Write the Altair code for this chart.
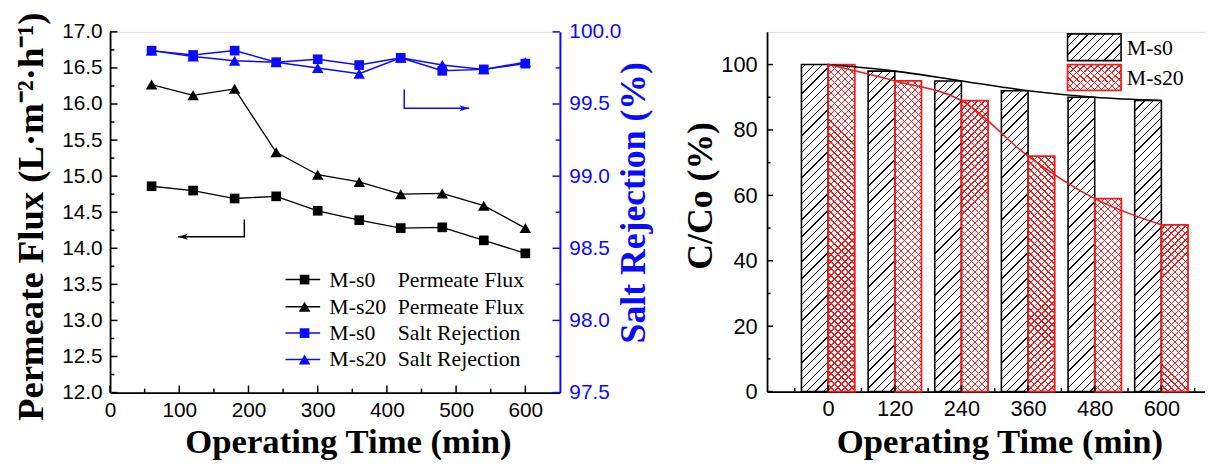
import math
import altair as alt
import pandas as pd

# ---------------- data ----------------
series_names = ["M-s0", "M-s20"]

flux_time = [60, 120, 180, 240, 300, 360, 420, 480, 540, 600]
flux_s0 = [14.86, 14.80, 14.69, 14.72, 14.52, 14.39, 14.28, 14.29, 14.11, 13.93]
flux_s20 = [16.27, 16.12, 16.21, 15.33, 15.02, 14.92, 14.75, 14.76, 14.59, 14.28]
rej_s0 = [99.87, 99.84, 99.87, 99.79, 99.81, 99.77, 99.82, 99.73, 99.74, 99.78]
rej_s20 = [99.87, 99.83, 99.80, 99.79, 99.75, 99.71, 99.82, 99.77, 99.74, 99.79]

arrow_flux_x = [194, 194, 98]
arrow_flux_y = [14.40, 14.16, 14.16]
arrow_rej_x = [425, 425, 519]
arrow_rej_y = [99.60, 99.47, 99.47]

cc_time = [0, 120, 240, 360, 480, 600]
cc_s0 = [100, 98, 95, 92, 90, 89]
cc_s20 = [100, 95, 89, 72, 59, 51]

flux_x_ticks = [0, 100, 200, 300, 400, 500, 600]
flux_x_minor = [50, 150, 250, 350, 450, 550]
flux_y_ticks = [12.0, 12.5, 13.0, 13.5, 14.0, 14.5, 15.0, 15.5, 16.0, 16.5, 17.0]
flux_y_minor = [12.25, 12.75, 13.25, 13.75, 14.25, 14.75, 15.25, 15.75, 16.25, 16.75]
rej_y_ticks = [97.5, 98.0, 98.5, 99.0, 99.5, 100.0]
rej_y_minor = [97.75, 98.25, 98.75, 99.25, 99.75]
cc_x_ticks = [0, 120, 240, 360, 480, 600]
cc_x_minor = [-60, 60, 180, 300, 420, 540, 660]
cc_y_ticks = [0, 20, 40, 60, 80, 100]
cc_y_minor = [10, 30, 50, 70, 90]

legend_left_ids = ["M-s0", "M-s20", "M-s0", "M-s20"]
legend_left_kind = ["Permeate Flux", "Permeate Flux", "Salt Rejection", "Salt Rejection"]

# ---------------- style ----------------
BLUE = "#0a0aff"
RED = "#ee1c1c"
SERIF = "Liberation Serif"
SANS = "Liberation Sans"
W1, H1 = 454, 364
W2, H2 = 454, 363
X2_DOMAIN = [-110, 700]
Y2_DOMAIN = [0, 110]
BAR_W = 48
SQ, TRI = 95, 135

one = pd.DataFrame({"k": [0]})


def hatch(w, h, spacing, lw, color, bg, direction):
    L = w + h
    k = L / (w * w + h * h)
    if direction == "/":
        x1, y1, x2, y2 = 0, 0, k * w, k * h
    else:
        x1, y1, x2, y2 = 1, 0, 1 - k * w, k * h
    period = spacing * math.sqrt(2) / L
    half = lw * math.sqrt(2) / (2 * L)
    stops = [{"offset": 0, "color": bg}]
    c = period / 2
    while c - half < 1:
        a = round(max(c - half, 0), 5)
        b = round(min(c + half, 1), 5)
        stops += [{"offset": a, "color": bg}, {"offset": a, "color": color},
                  {"offset": b, "color": color}, {"offset": b, "color": bg}]
        c += period
    stops.append({"offset": 1, "color": bg})
    return {"gradient": "linear", "x1": round(x1, 5), "y1": y1, "x2": round(x2, 5),
            "y2": round(y2, 5), "stops": stops}


def text_layer(s, x, y, size, color="black", align="left", font=SERIF):
    return alt.Chart(one).mark_text(text=s, align=align, baseline="middle", font=font,
                                    fontSize=size, color=color).encode(x=alt.value(x), y=alt.value(y))


# ================= LEFT PANEL =================
xs1 = alt.Scale(domain=[0, 650], nice=False, zero=False)
ys_flux = alt.Scale(domain=[12, 17], nice=False, zero=False)
ys_rej = alt.Scale(domain=[97.5, 100], nice=False, zero=False)

x_axis1 = alt.Axis(values=flux_x_ticks, format="d", ticks=False, tickSize=0, grid=False,
                   domainColor="black", domainWidth=1.8, labelFont=SANS, labelFontSize=21,
                   labelColor="black", labelPadding=7, labelFlush=False, labelOverlap=False,
                   title="Operating Time (min)", titleFont=SERIF, titleFontSize=35,
                   titleFontWeight="bold", titleColor="black", titleBaseline="alphabetic",
                   titleAlign="center", titleX=240, titleY=60.5)
flux_axis = alt.Axis(values=flux_y_ticks, format=".1f", ticks=False, tickSize=0, grid=False,
                     domainColor="black", domainWidth=1.8, labelFont=SANS, labelFontSize=21,
                     labelColor="black", labelPadding=8, labelFlush=False, labelOverlap=False,
                     title="Permeate Flux (L·m⁻²·h⁻¹)", titleFont=SERIF, titleFontSize=37,
                     titleFontWeight="bold", titleColor="black", titleAngle=270,
                     titleBaseline="alphabetic", titleAlign="center", titleX=-68, titleY=186)
rej_axis = alt.Axis(orient="right", values=rej_y_ticks, format=".1f", ticks=False, tickSize=0,
                    grid=False, domainColor=BLUE, domainWidth=2, labelFont=SANS, labelFontSize=21,
                    labelColor=BLUE, labelPadding=9, labelFlush=False, labelOverlap=False,
                    title="Salt Rejection (%)", titleFont=SERIF, titleFontSize=36,
                    titleFontWeight="bold", titleColor=BLUE, titleAngle=270,
                    titleBaseline="alphabetic", titleAlign="center", titleX=85, titleY=172)

X1 = alt.X("time:Q", scale=xs1, axis=x_axis1)
Yf = alt.Y("flux:Q", scale=ys_flux, axis=flux_axis)
Yr = alt.Y("rej:Q", scale=ys_rej, axis=rej_axis)

shape_scale = alt.Scale(domain=series_names, range=["square", "triangle-up"])
size_scale = alt.Scale(domain=series_names, range=[SQ, TRI])

flux_df = pd.DataFrame({"time": flux_time * 2, "flux": flux_s0 + flux_s20,
                        "series": [series_names[0]] * len(flux_time) + [series_names[1]] * len(flux_time)})
rej_df = pd.DataFrame({"time": flux_time * 2, "rej": rej_s0 + rej_s20,
                       "series": [series_names[0]] * len(flux_time) + [series_names[1]] * len(flux_time)})

flux_line = alt.Chart(flux_df).mark_line(color="black", strokeWidth=1.3).encode(
    x=X1, y=Yf, detail="series:N")
flux_pts = alt.Chart(flux_df).mark_point(filled=True, color="black", opacity=1).encode(
    x=X1, y=Yf,
    shape=alt.Shape("series:N", scale=shape_scale, legend=None),
    size=alt.Size("series:N", scale=size_scale, legend=None))

xt_major = alt.Chart(pd.DataFrame({"time": flux_x_ticks})).mark_rule(color="black", strokeWidth=1.5).encode(
    x=X1, y=alt.value(H1), y2=alt.value(H1 - 7))
xt_minor = alt.Chart(pd.DataFrame({"time": flux_x_minor})).mark_rule(color="black", strokeWidth=1.5).encode(
    x=X1, y=alt.value(H1), y2=alt.value(H1 - 4))
yf_major = alt.Chart(pd.DataFrame({"flux": flux_y_ticks})).mark_rule(color="black", strokeWidth=1.5).encode(
    y=Yf, x=alt.value(0), x2=alt.value(7.5))
yf_minor = alt.Chart(pd.DataFrame({"flux": flux_y_minor})).mark_rule(color="black", strokeWidth=1.5).encode(
    y=Yf, x=alt.value(0), x2=alt.value(4.3))

arrow_f = alt.Chart(pd.DataFrame({"time": arrow_flux_x, "flux": arrow_flux_y, "o": [0, 1, 2]})).mark_line(
    color="black", strokeWidth=1.5).encode(x=X1, y=Yf, order="o:Q")
head_f = alt.Chart(pd.DataFrame({"time": arrow_flux_x[-1:], "flux": arrow_flux_y[-1:]})).mark_point(
    shape="M0,0 L1,-0.3 L0.75,0 L1,0.3 Z", filled=True, color="black", opacity=1, size=400).encode(x=X1, y=Yf)

flux_group = alt.layer(flux_line, flux_pts, xt_major, xt_minor, yf_major, yf_minor, arrow_f, head_f)

rej_line = alt.Chart(rej_df).mark_line(color=BLUE, strokeWidth=1.5).encode(
    x=X1, y=Yr, detail="series:N")
rej_pts = alt.Chart(rej_df).mark_point(filled=True, color=BLUE, opacity=1).encode(
    x=X1, y=Yr,
    shape=alt.Shape("series:N", scale=shape_scale, legend=None),
    size=alt.Size("series:N", scale=size_scale, legend=None))
yr_major = alt.Chart(pd.DataFrame({"rej": rej_y_ticks})).mark_rule(color=BLUE, strokeWidth=1.5).encode(
    y=Yr, x=alt.value(W1), x2=alt.value(W1 - 7.5))
yr_minor = alt.Chart(pd.DataFrame({"rej": rej_y_minor})).mark_rule(color=BLUE, strokeWidth=1.5).encode(
    y=Yr, x=alt.value(W1), x2=alt.value(W1 - 4.3))
arrow_r = alt.Chart(pd.DataFrame({"time": arrow_rej_x, "rej": arrow_rej_y, "o": [0, 1, 2]})).mark_line(
    color=BLUE, strokeWidth=1.5).encode(x=X1, y=Yr, order="o:Q")
head_r = alt.Chart(pd.DataFrame({"time": arrow_rej_x[-1:], "rej": arrow_rej_y[-1:]})).mark_point(
    shape="M0,0 L-1,-0.3 L-0.75,0 L-1,0.3 Z", filled=True, color=BLUE, opacity=1, size=400).encode(x=X1, y=Yr)

rej_group = alt.layer(rej_line, rej_pts, yr_major, yr_minor, arrow_r, head_r)

# left legend (custom)
leg_layers = []
row_y = [250, 277.3, 304, 330.7]
shapes = {"M-s0": ("square", SQ), "M-s20": ("triangle-up", TRI)}
for i, (sid, kind) in enumerate(zip(legend_left_ids, legend_left_kind)):
    col = "black" if kind == "Permeate Flux" else BLUE
    y = row_y[i]
    leg_layers.append(alt.Chart(one).mark_rule(color=col, strokeWidth=1.5).encode(
        x=alt.value(177), x2=alt.value(212), y=alt.value(y)))
    shp, sz = shapes[sid]
    leg_layers.append(alt.Chart(one).mark_point(shape=shp, size=sz, filled=True, color=col, opacity=1).encode(
        x=alt.value(196.3), y=alt.value(y)))
    leg_layers.append(text_layer(sid, 221.3, y, 22))
    leg_layers.append(text_layer(kind, 290.3, y, 22))

left = alt.layer(flux_group, rej_group, *leg_layers).resolve_scale(y="independent").properties(
    width=W1, height=H1)

# ================= RIGHT PANEL =================
xs2 = alt.Scale(domain=X2_DOMAIN, nice=False, zero=False)
ys2 = alt.Scale(domain=Y2_DOMAIN, nice=False, zero=False)
x_axis2 = alt.Axis(values=cc_x_ticks, format="d", ticks=False, tickSize=0, grid=False,
                   domainColor="black", domainWidth=1.8, labelFont=SANS, labelFontSize=22,
                   labelColor="black", labelPadding=7, labelFlush=False, labelOverlap=False,
                   title="Operating Time (min)", titleFont=SERIF, titleFontSize=35,
                   titleFontWeight="bold", titleColor="black", titleBaseline="alphabetic",
                   titleAlign="center", titleX=234.5, titleY=61.5)
y_axis2 = alt.Axis(values=cc_y_ticks, format="d", ticks=False, tickSize=0, grid=False,
                   domainColor="black", domainWidth=1.8, labelFont=SANS, labelFontSize=22,
                   labelColor="black", labelPadding=10, labelFlush=False, labelOverlap=False,
                   title="C/Co (%)", titleFont=SERIF, titleFontSize=36,
                   titleFontWeight="bold", titleColor="black", titleAngle=270,
                   titleBaseline="alphabetic", titleAlign="center", titleX=-56, titleY=165)

px_x = W2 / (X2_DOMAIN[1] - X2_DOMAIN[0])
px_y = H2 / (Y2_DOMAIN[1] - Y2_DOMAIN[0])
bw, bh = BAR_W * px_x, 100 * px_y
grad_black = hatch(bw, bh, 6.0, 0.9, "black", "white", "/")
grad_red1 = hatch(bw, bh, 5.0, 0.9, RED, "white", "/")
grad_red2 = hatch(bw, bh, 5.0, 0.9, RED, "rgba(255,255,255,0)", "\\")

cc_df = pd.DataFrame({"time": cc_time, "s0": cc_s0, "s20": cc_s20})
base2 = alt.Chart(cc_df).transform_calculate(
    lx="datum.time - %d" % BAR_W, mx="datum.time", rx="datum.time + %d" % BAR_W, full="100",
    clx="datum.time - %d" % (BAR_W + 2), cmx="datum.time + 1",
    crl="datum.time - 1", crr="datum.time + %d" % (BAR_W + 2))

X2L = alt.X("lx:Q", scale=xs2, axis=x_axis2)
X2M = alt.X("mx:Q", scale=xs2, axis=x_axis2)

hatch_b = base2.mark_bar(fill=grad_black, strokeWidth=0).encode(
    x=X2L, x2="mx:Q", y=alt.Y("full:Q", scale=ys2, axis=y_axis2), y2=alt.datum(0))
hatch_r1 = base2.mark_bar(fill=grad_red1, strokeWidth=0).encode(
    x=X2M, x2="rx:Q", y=alt.Y("full:Q", scale=ys2, axis=y_axis2), y2=alt.datum(0))
hatch_r2 = base2.mark_bar(fill=grad_red2, strokeWidth=0).encode(
    x=X2M, x2="rx:Q", y=alt.Y("full:Q", scale=ys2, axis=y_axis2), y2=alt.datum(0))
cover_b = base2.mark_bar(fill="white", strokeWidth=0).encode(
    x=alt.X("clx:Q", scale=xs2, axis=x_axis2), x2="cmx:Q",
    y=alt.Y("s0:Q", scale=ys2, axis=y_axis2), y2=alt.datum(100.8))
cover_r = base2.mark_bar(fill="white", strokeWidth=0).encode(
    x=alt.X("crl:Q", scale=xs2, axis=x_axis2), x2="crr:Q",
    y=alt.Y("s20:Q", scale=ys2, axis=y_axis2), y2=alt.datum(100.8))
out_b = base2.mark_bar(fillOpacity=0, stroke="black", strokeWidth=1.6).encode(
    x=X2L, x2="mx:Q", y=alt.Y("s0:Q", scale=ys2, axis=y_axis2), y2=alt.datum(0))
out_r = base2.mark_bar(fillOpacity=0, stroke=RED, strokeWidth=1.8).encode(
    x=X2M, x2="rx:Q", y=alt.Y("s20:Q", scale=ys2, axis=y_axis2), y2=alt.datum(0))
line_b = alt.Chart(cc_df).mark_line(color="black", strokeWidth=1.6, interpolate="monotone").encode(
    x=alt.X("time:Q", scale=xs2, axis=x_axis2), y=alt.Y("s0:Q", scale=ys2, axis=y_axis2))
line_r = alt.Chart(cc_df).mark_line(color=RED, strokeWidth=1.6, interpolate="monotone").encode(
    x=alt.X("time:Q", scale=xs2, axis=x_axis2), y=alt.Y("s20:Q", scale=ys2, axis=y_axis2))

X2T = alt.X("time:Q", scale=xs2, axis=x_axis2)
Y2T = alt.Y("v:Q", scale=ys2, axis=y_axis2)
cx_major = alt.Chart(pd.DataFrame({"time": cc_x_ticks})).mark_rule(color="black", strokeWidth=1.5).encode(
    x=X2T, y=alt.value(H2), y2=alt.value(H2 - 6))
cx_minor = alt.Chart(pd.DataFrame({"time": cc_x_minor})).mark_rule(color="black", strokeWidth=1.5).encode(
    x=X2T, y=alt.value(H2), y2=alt.value(H2 - 3.5))
cy_major = alt.Chart(pd.DataFrame({"v": cc_y_ticks})).mark_rule(color="black", strokeWidth=1.5).encode(
    y=Y2T, x=alt.value(0), x2=alt.value(6))
cy_minor = alt.Chart(pd.DataFrame({"v": cc_y_minor})).mark_rule(color="black", strokeWidth=1.5).encode(
    y=Y2T, x=alt.value(0), x2=alt.value(3.5))

# right legend (custom)
sw_w, sw_h = 54, 27
g_sw_b = hatch(sw_w, sw_h, 6.0, 0.9, "black", "white", "/")
g_sw_r1 = hatch(sw_w, sw_h, 5.0, 0.9, RED, "white", "/")
g_sw_r2 = hatch(sw_w, sw_h, 5.0, 0.9, RED, "rgba(255,255,255,0)", "\\")
sx1, sx2 = 303.3, 357.3
sw_b = alt.Chart(one).mark_rect(fill=g_sw_b, stroke="black", strokeWidth=1.6).encode(
    x=alt.value(sx1), x2=alt.value(sx2), y=alt.value(2), y2=alt.value(29))
sw_r1 = alt.Chart(one).mark_rect(fill=g_sw_r1, strokeWidth=0).encode(
    x=alt.value(sx1), x2=alt.value(sx2), y=alt.value(33), y2=alt.value(59))
sw_r2 = alt.Chart(one).mark_rect(fill=g_sw_r2, stroke=RED, strokeWidth=1.8).encode(
    x=alt.value(sx1), x2=alt.value(sx2), y=alt.value(33), y2=alt.value(59))
lt_b = text_layer(series_names[0], 363.1, 16.7, 22)
lt_r = text_layer(series_names[1], 363.1, 46.7, 22)

right = alt.layer(hatch_b, hatch_r1, hatch_r2, cover_b, cover_r, out_b, out_r, line_b, line_r,
                  cx_major, cx_minor, cy_major, cy_minor, sw_b, sw_r1, sw_r2, lt_b, lt_r).properties(
    width=W2, height=H2)

chart = alt.hconcat(left, right, spacing=209, bounds="flush").properties(
    padding={"left": 4, "top": 0, "right": -13, "bottom": 1}
).configure_view(stroke="black", strokeWidth=1.8).configure(background="white")

chart.save("out.html", embed_options={"renderer": "svg", "actions": False})
